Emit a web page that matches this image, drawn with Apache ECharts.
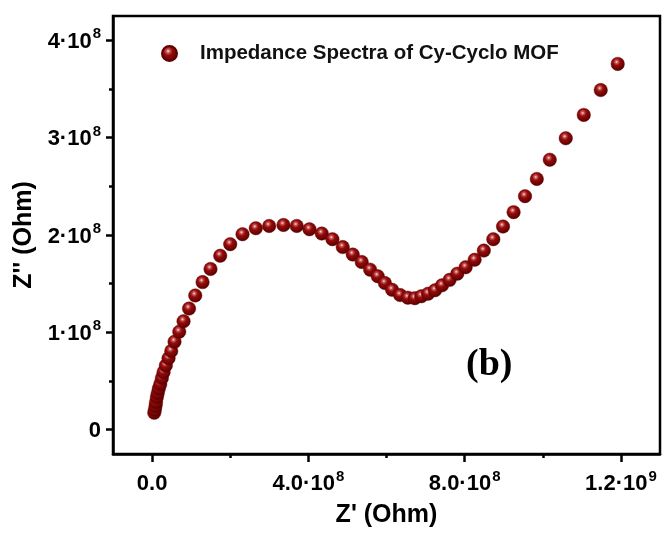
<!DOCTYPE html>
<html>
<head>
<meta charset="utf-8">
<script src="https://cdn.jsdelivr.net/npm/echarts@6/dist/echarts.min.js"></script>
<style>
html,body{margin:0;padding:0;background:#fff;}
#c{width:665px;height:533px;}
</style>
</head>
<body>
<div id="c"></div>
<script>
// Z' (real part) in units of 1e8 Ohm
var zReal = [0.056,0.072,0.090,0.102,0.123,0.146,0.174,0.210,0.251,0.294,0.353,0.422,0.491,0.575,0.696,0.806,0.946,1.105,1.292,1.496,1.744,2.000,2.315,2.655,2.997,3.363,3.703,4.028,4.343,4.616,4.880,5.136,5.366,5.581,5.775,5.959,6.143,6.348,6.547,6.726,6.893,7.064,7.243,7.422,7.616,7.813,8.026,8.256,8.491,8.734,8.982,9.253,9.545,9.847,10.179,10.588,11.049,11.483,11.918];
// Z'' (imaginary part) in units of 1e8 Ohm
var zImag = [0.173,0.204,0.245,0.285,0.336,0.377,0.423,0.469,0.530,0.591,0.660,0.734,0.808,0.904,1.006,1.114,1.244,1.379,1.516,1.651,1.787,1.906,2.008,2.069,2.093,2.103,2.093,2.059,2.015,1.957,1.876,1.799,1.723,1.644,1.577,1.506,1.437,1.383,1.356,1.351,1.371,1.397,1.432,1.483,1.539,1.603,1.669,1.745,1.840,1.957,2.087,2.235,2.399,2.576,2.773,2.994,3.234,3.489,3.758];
var unit = 1e8;
var seriesName = 'Impedance Spectra of Cy-Cyclo MOF';
var xTicks = [0, 4e8, 8e8, 1.2e9];
var xMinorTicks = [2e8, 6e8, 1e9];
var yTicks = [0, 1e8, 2e8, 3e8, 4e8];
var yMinorTicks = [0.5e8, 1.5e8, 2.5e8, 3.5e8];
var xLabelText = {0: ['0.0', ''], 400000000: ['4.0·10', '8'], 800000000: ['8.0·10', '8'], 1200000000: ['1.2·10', '9']};
var yLabelText = {0: ['0', ''], 100000000: ['1·10', '8'], 200000000: ['2·10', '8'], 300000000: ['3·10', '8'], 400000000: ['4·10', '8']};

var data = zReal.map(function (x, i) { return [x * unit, zImag[i] * unit]; });

var FONT = '"Liberation Sans", Arial, sans-serif';
var rich = {
  a: {fontSize: 22, fontWeight: 'bold', fontFamily: FONT, color: '#000', verticalAlign: 'bottom', lineHeight: 25},
  s: {fontSize: 15, fontWeight: 'bold', fontFamily: FONT, color: '#000', verticalAlign: 'bottom', padding: [0, 0, 11, 1], lineHeight: 15}
};
function fmt(map) {
  return function (v) {
    var t = map[Math.round(v)];
    if (!t) return '';
    return '{a|' + t[0] + '}' + (t[1] ? '{s|' + t[1] + '}' : '');
  };
}

var ballColor = new echarts.graphic.RadialGradient(0.42, 0.36, 0.64, [
  {offset: 0, color: '#f8e2e2'},
  {offset: 0.17, color: '#c45a5a'},
  {offset: 0.4, color: '#970a0a'},
  {offset: 1, color: '#560000'}
]);

var chart = echarts.init(document.getElementById('c'), null, {renderer: 'canvas'});
chart.setOption({
  backgroundColor: '#fff',
  animation: false,
  grid: {left: 113, right: 5, top: 16, bottom: 76, show: true, borderColor: '#000', borderWidth: 2.5, containLabel: false},
  legend: {
    show: true,
    left: 156, top: 38,
    itemWidth: 15, itemHeight: 15,
    icon: 'circle',
    data: [seriesName],
    textStyle: {fontSize: 20.5, fontWeight: 'bold', fontFamily: FONT, color: '#111', padding: [0, 0, 0, 18]}
  },
  xAxis: [{
    type: 'value', min: -1e8, max: 1.3e9, position: 'bottom',
    splitLine: {show: false},
    axisLine: {show: true, onZero: false, lineStyle: {color: '#000', width: 2.5}},
    axisTick: {show: true, inside: false, length: 8, customValues: xTicks, lineStyle: {color: '#000', width: 2.5}},
    axisLabel: {show: true, margin: 16, customValues: xTicks, formatter: fmt(xLabelText), rich: rich},
    name: "Z' (Ohm)", nameLocation: 'middle', nameGap: 49,
    nameTextStyle: {fontSize: 25, fontWeight: 'bold', fontFamily: FONT, color: '#000'}
  }, {
    type: 'value', min: -1e8, max: 1.3e9, position: 'bottom',
    splitLine: {show: false},
    axisLine: {show: false, onZero: false},
    axisTick: {show: true, inside: false, length: 4, customValues: xMinorTicks, lineStyle: {color: '#000', width: 2.5}},
    axisLabel: {show: false}
  }],
  yAxis: [{
    type: 'value', min: -0.25e8, max: 4.25e8, position: 'left',
    splitLine: {show: false},
    axisLine: {show: true, onZero: false, lineStyle: {color: '#000', width: 2.5}},
    axisTick: {show: true, inside: false, length: 7, customValues: yTicks, lineStyle: {color: '#000', width: 2.5}},
    axisLabel: {show: true, margin: 12, customValues: yTicks, formatter: fmt(yLabelText), rich: rich},
    name: "Z'' (Ohm)", nameLocation: 'middle', nameGap: 72, nameRotate: 90,
    nameTextStyle: {fontSize: 25, fontWeight: 'bold', fontFamily: FONT, color: '#000'}
  }, {
    type: 'value', min: -0.25e8, max: 4.25e8, position: 'left',
    splitLine: {show: false},
    axisLine: {show: false, onZero: false},
    axisTick: {show: true, inside: false, length: 4, customValues: yMinorTicks, lineStyle: {color: '#000', width: 2.5}},
    axisLabel: {show: false}
  }],
  series: [{
    name: seriesName,
    type: 'scatter',
    xAxisIndex: 0, yAxisIndex: 0,
    symbol: 'circle',
    symbolSize: 13.5,
    data: data,
    itemStyle: {color: ballColor, opacity: 1, borderColor: '#5e0000', borderWidth: 0.4},
    emphasis: {disabled: true}
  }],
  graphic: [{
    type: 'text', left: 466, top: 346,
    style: {text: '(b)', font: 'bold 38px "Liberation Serif", "Times New Roman", serif', fill: '#000'}
  }]
});
</script>
</body>
</html>
